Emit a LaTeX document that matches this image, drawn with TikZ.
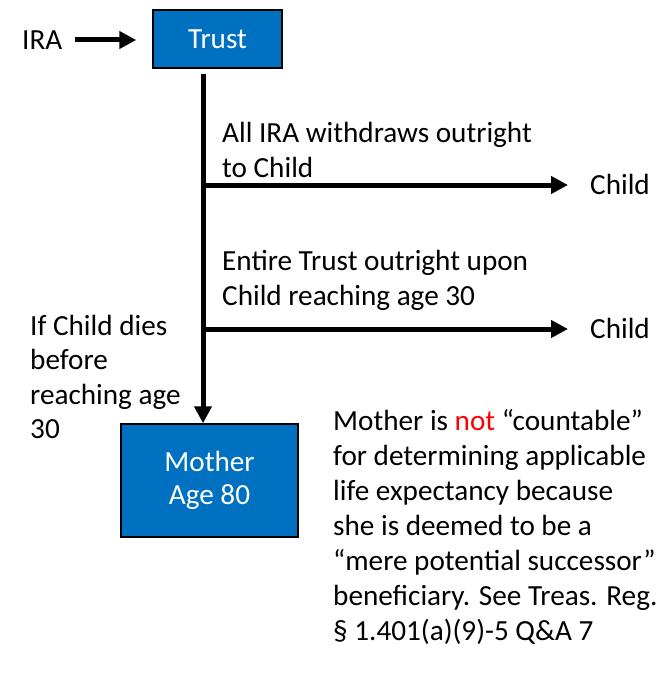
\documentclass[tikz,border=0pt]{standalone}
\usepackage{fontspec}
\setmainfont{Carlito}
\usetikzlibrary{arrows.meta}
\definecolor{boxblue}{HTML}{0070C0}
\begin{document}
\begin{tikzpicture}[x=1pt,y=-1pt,
  every node/.style={font=\fontsize{29.2}{35}\selectfont, inner sep=0pt},
  bluebox/.style={draw=black, line width=1.5pt, fill=boxblue, text=white, align=center},
  flowarrow/.style={line width=5pt, -{Triangle[length=17pt,width=17pt]}},
  txt/.style={align=left, anchor=north west}]
\useasboundingbox (0,0) rectangle (666,687);
\node[bluebox, minimum width=129pt, minimum height=58pt] (trust) at (217.5,39) {Trust};
\node[bluebox, minimum width=177pt, minimum height=113pt, font=\fontsize{29.2}{33}\selectfont] (mother) at (209.5,480.5) {Mother\\Age 80};
\node[anchor=west] (ira) at (22,40) {IRA};
\draw[flowarrow, shorten <=12pt, shorten >=16pt] (ira.east) -- (ira.east -| trust.west);
\coordinate (vtop) at (203,74);
\draw[flowarrow] (vtop) -- (vtop |- mother.north);
\node[anchor=west] (child1) at (590,184) {Child};
\node[anchor=west] (child2) at (590,328) {Child};
\coordinate (b1) at (203,185);
\coordinate (b2) at (203,329);
\draw[flowarrow, shorten >=22pt] (b1) -- (b1 -| child1.west);
\draw[flowarrow, shorten >=22pt] (b2) -- (b2 -| child2.west);
\node[txt] (t1) at (222,122) {All IRA withdraws outright\\to Child};
\node[txt] (t2) at (222,250) {Entire Trust outright upon\\Child reaching age 30};
\node[txt, font=\fontsize{29.2}{34.5}\selectfont] (t3) at (30,315) {If Child dies\\before\\reaching age\\30};
\node[txt] (t4) at (333,409) {Mother is \textcolor{red}{not} “countable”\\for determining applicable\\life expectancy because\\she is deemed to be a\\“mere potential successor”\\beneficiary. See Treas. Reg.\\§ 1.401(a)(9)-5 Q\&A 7};
\end{tikzpicture}
\end{document}
